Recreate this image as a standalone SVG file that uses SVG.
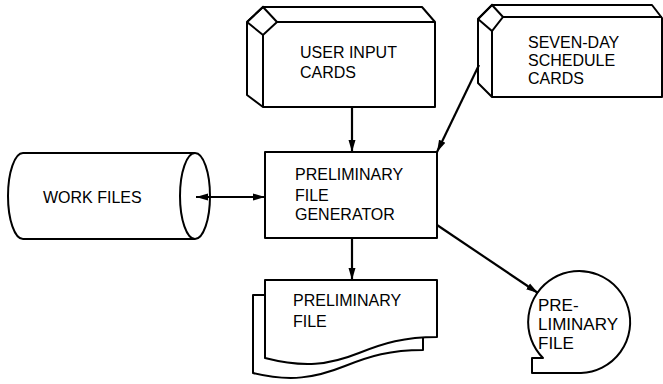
<svg xmlns="http://www.w3.org/2000/svg" width="663" height="384" viewBox="0 0 663 384">
<defs>
<style>
.s{fill:#fff;stroke:#000;stroke-width:2;stroke-linejoin:round}
.l{fill:none;stroke:#000;stroke-width:2}
.c{fill:none;stroke:#000;stroke-width:2.2}
text{font-family:"Liberation Sans",Arial,sans-serif;font-size:16px;fill:#000}
.big{font-size:17px}
</style>
<marker id="ah" markerWidth="13" markerHeight="8" refX="12" refY="4" orient="auto-start-reverse" markerUnits="userSpaceOnUse">
<path d="M0,0.5 L12,4 L0,7.5 Z" fill="#000"/>
</marker>
</defs>
<rect width="663" height="384" fill="#fff"/>

<g id="user-input-cards">
<path class="s" d="M263,7 L422,7 L435,22 L435,107 L263,107 L247,95 L247,22 Z"/>
<path class="l" d="M247,22 L263,35 L277,22 L435,22 M263,35 L263,107 M247,22 L263,7 L277,22"/>
<text x="300" y="58">USER INPUT</text>
<text x="300" y="78">CARDS</text>
</g>

<g id="seven-day-schedule-cards">
<path class="s" d="M492,5 L652,5 L662,18 L662,97 L492,97 L478,83 L478,19 Z"/>
<path class="l" d="M478,19 L492,31 L503,17 L662,17 M492,31 L492,97 M478,19 L492,5 L503,17"/>
<text x="528" y="48">SEVEN-DAY</text>
<text x="528" y="66">SCHEDULE</text>
<text x="528" y="84">CARDS</text>
</g>

<g id="work-files">
<path class="s" d="M23,153 H195 A15,43 0 0 1 195,239 H23 A15,43 0 0 1 23,153 Z"/>
<path class="l" d="M195,153 A15,43 0 0 0 195,239"/>
<text x="43" y="203" font-size="16.5">WORK FILES</text>
</g>

<g id="preliminary-file-generator">
<rect class="s" x="265" y="152" width="172" height="86"/>
<text x="295" y="180">PRELIMINARY</text>
<text x="295" y="201">FILE</text>
<text x="295" y="220">GENERATOR</text>
</g>

<g id="preliminary-file-document">
<path class="s" d="M253,295 H423 V350 C390,350 370,356 345,366 C315,378 290,382 253,373 Z"/>
<path class="s" d="M265,280 H437 V337 C404,337 384,343 359,353 C329,365 304,368 265,358 Z"/>
<text x="293" y="306">PRELIMINARY</text>
<text x="293" y="327">FILE</text>
</g>

<g id="preliminary-file-tape">
<path class="s" d="M581,373 H532 V358 H543 A51,51 0 1 1 581,373 Z"/>
<text class="big" x="538" y="311">PRE-</text>
<text class="big" x="538" y="330">LIMINARY</text>
<text class="big" x="538" y="349">FILE</text>
</g>

<g id="connectors">
<line class="c" x1="352" y1="107" x2="352" y2="152" marker-end="url(#ah)"/>
<line class="c" x1="479" y1="65" x2="437" y2="152" marker-end="url(#ah)"/>
<line class="c" x1="196" y1="197" x2="265" y2="197" marker-start="url(#ah)" marker-end="url(#ah)"/>
<line class="c" x1="352" y1="238" x2="352" y2="280" marker-end="url(#ah)"/>
<line class="c" x1="437" y1="225" x2="538" y2="293" marker-end="url(#ah)"/>
</g>
</svg>
